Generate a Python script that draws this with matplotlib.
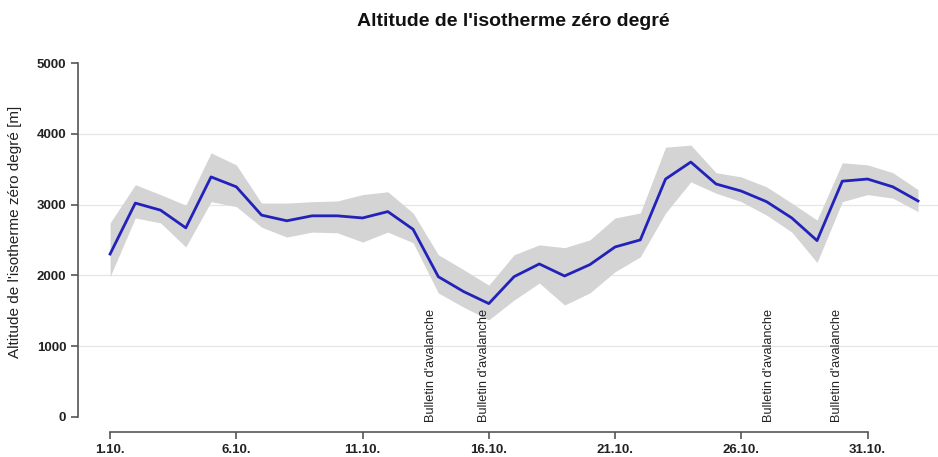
import numpy as np
import matplotlib
matplotlib.use("Agg")
from matplotlib import pyplot as plt

plt.rcParams['font.family'] = ['Liberation Sans', 'DejaVu Sans']

# Jours (1 = 1.10.)
jours = list(range(1, 34))

# Altitude moyenne de l'isotherme zéro degré [m]
altitude = [2300, 3020, 2920, 2670, 3390, 3250, 2850, 2770, 2840, 2840,
            2810, 2900, 2650, 1980, 1770, 1600, 1980, 2160, 1990, 2150,
            2400, 2500, 3360, 3600, 3290, 3190, 3040, 2810, 2490, 3330,
            3360, 3250, 3050]

# Bande d'incertitude
haut = [2740, 3280, 3140, 2990, 3730, 3560, 3020, 3020, 3040, 3050,
        3140, 3180, 2880, 2290, 2080, 1860, 2290, 2430, 2390, 2500,
        2810, 2880, 3810, 3840, 3450, 3390, 3250, 3020, 2780, 3590,
        3560, 3450, 3210]
bas = [1980, 2810, 2740, 2400, 3040, 2970, 2680, 2540, 2610, 2600,
       2470, 2610, 2460, 1750, 1550, 1370, 1650, 1890, 1580, 1750,
       2050, 2260, 2880, 3320, 3160, 3040, 2850, 2610, 2180, 3040,
       3140, 3090, 2900]

# Bulletins d'avalanche
bulletins = [13.7, 15.8, 27.1, 29.8]

tick_jours = [1, 6, 11, 16, 21, 26, 31]
tick_labels = ['1.10.', '6.10.', '11.10.', '16.10.', '21.10.', '26.10.', '31.10.']

fig = plt.figure(figsize=(9.38, 4.57), dpi=100)
ax = fig.add_axes([78 / 938, 25 / 457, 860 / 938, 369 / 457])

for g in [1000, 2000, 3000, 4000]:
    ax.axhline(g, color='#e6e6e6', lw=0.9, zorder=0)

ax.fill_between(jours, bas, haut, color='#d4d4d4', lw=0, zorder=1)
ax.plot(jours, altitude, color='#2222bb', lw=2, zorder=2)

for b in bulletins:
    ax.text(b, -70, "Bulletin d'avalanche", rotation=90, ha='center', va='bottom',
            fontsize=9.2, color='#222222')

ax.set_xlim(-0.27, 33.79)
ax.set_ylim(-215, 5000)

for s in ['top', 'right']:
    ax.spines[s].set_visible(False)
ax.spines['left'].set_bounds(0, 5000)
ax.spines['bottom'].set_bounds(1, 31)
for s in ['left', 'bottom']:
    ax.spines[s].set_color('#555555')
    ax.spines[s].set_linewidth(1.2)

ax.set_yticks([0, 1000, 2000, 3000, 4000, 5000])
ax.set_yticklabels(['0', '1000', '2000', '3000', '4000', '5000'], fontweight='bold', fontsize=9.5)
ax.set_xticks(tick_jours)
ax.set_xticklabels(tick_labels, fontweight='bold', fontsize=9.5)
ax.tick_params(colors='#555555', labelcolor='#222222', length=5, width=1.2)

fig.text(15 / 938, 1 - 232 / 457, "Altitude de l'isotherme zéro degré [m]", rotation=90,
         ha='center', va='center', fontsize=11, color='#222222')
fig.text(513 / 938, 1 - 22 / 457, "Altitude de l'isotherme zéro degré", ha='center', va='center',
         fontsize=14, fontweight='bold', color='#111111')

fig.savefig('out.png', dpi=100)
